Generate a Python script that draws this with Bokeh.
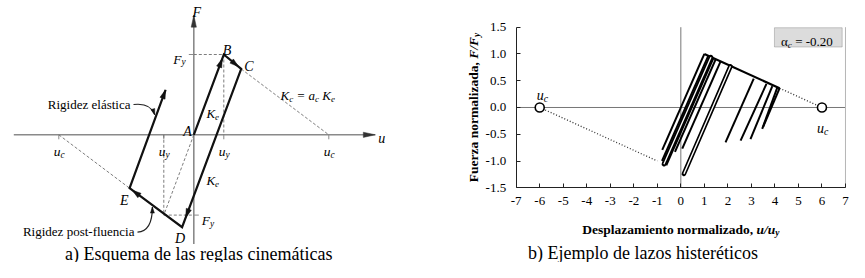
import math
from bokeh.plotting import figure
from bokeh.models import Range1d, Label, BoxAnnotation, FixedTicker, LinearAxis
from bokeh.layouts import row
from bokeh.embed import file_html
from bokeh.resources import INLINE

SERIF = "Liberation Serif"

# ---------------- Panel a: schematic (u / u_y, F / F_y) ----------------
pt_names = ["A", "B", "C", "D", "E"]
pt_u = [0.0, 1.0, 1.58, -0.39, -2.14]
pt_F = [0.0, 1.0, 0.82, -1.15, -0.665]
reload_tip_u = [-0.94]
reload_tip_F = [0.56]
u_y = 1.0
F_y = 1.0
u_c = 4.5
u_axis_ext = [-6.0, 6.05]
F_axis_ext = [-1.36, 1.49]

# ---------------- Panel b: hysteresis example ----------------
x_ticks = [-7, -6, -5, -4, -3, -2, -1, 0, 1, 2, 3, 4, 5, 6, 7]
x_tick_labels = ["-7", "-6", "-5", "-4", "-3", "-2", "-1", "0", "1", "2", "3", "4", "5", "6", "7"]
y_ticks = [-1.5, -1.0, -0.5, 0.0, 0.5, 1.0, 1.5]
y_tick_labels = ["-1.5", "-1.0", "-0.5", "0.0", "0.5", "1.0", "1.5"]
alpha_c = -0.20
cap_u = [-6.0, 6.0]
cap_F = [0.0, 0.0]
yield_u = [-1.0, 1.0]
yield_F = [-1.0, 1.0]
env_end_u = 4.2
env_end_F = 0.36
# single elastic branches: (top on envelope) -> (bottom)
cyc_top_u = [1.00, 1.17, 1.24, 1.31, 1.38, 1.48, 1.69, 3.10, 3.64, 3.89, 4.10, 4.20]
cyc_top_F = [1.00, 0.97, 0.95, 0.94, 0.92, 0.90, 0.86, 0.54, 0.44, 0.40, 0.37, 0.36]
cyc_bot_u = [-0.79, -0.80, -0.75, -0.70, -0.62, -0.25, 0.06, 1.90, 2.54, 2.96, 3.46, 3.50]
cyc_bot_F = [-0.79, -1.00, -1.04, -1.07, -1.08, -0.83, -0.77, -0.65, -0.62, -0.59, -0.40, -0.36]
# doubled branches (drawn outlined)
dbl_top_u = [1.28, 2.11]
dbl_top_F = [0.94, 0.77]
dbl_bot_u = [-0.72, 0.13]
dbl_bot_F = [-1.06, -1.24]

# ---------------- text helpers ----------------
W_REG = {' ': 250, ')': 333, '-': 333, '.': 250, ',': 250, '=': 564, '0': 500, '2': 500, 'α': 530}
W_ITA = {'K': 667, 'c': 444, 'e': 444, 'a': 500, 'u': 500, 'y': 444, 'F': 611, '=': 675, ' ': 250, '/': 278}
W_BOLD = {'D': 722, 'e': 444, 's': 389, 'p': 556, 'l': 278, 'a': 500, 'z': 444, 'm': 833, 'i': 278,
          'n': 556, 't': 333, 'o': 500, ' ': 250, 'r': 444, 'd': 556, ',': 250, 'F': 611, 'u': 556}
W_BI = {'u': 556, '/': 278, 'F': 667, 'y': 444, ' ': 250}
TABLES = {"normal": W_REG, "italic": W_ITA, "bold": W_BOLD, "bold italic": W_BI}


def text_w(t, style, size):
    tb = TABLES[style]
    return sum(tb.get(ch, 500) for ch in t) * size / 1000.0


def label(p, x, y, text, size, style="normal", xo=0.0, yo=0.0, align="left",
          baseline="alphabetic", angle=0.0, color="black"):
    p.add_layout(Label(x=x, y=y, x_offset=xo, y_offset=yo, text=text, text_font=SERIF,
                       text_font_size=f"{size:.1f}px", text_font_style=style, text_align=align,
                       text_baseline=baseline, angle=angle, text_color=color))


def rich(p, x, y, segs, size, xo=0.0, yo=0.0, align="left", angle=0.0,
         sub_scale=0.7, sub_drop=0.25, color="black"):
    pieces = []
    for t, st, sb in segs:
        fs = size * (sub_scale if sb else 1.0)
        core = t.strip(" ")
        sp = text_w(" ", st, fs)
        if core:
            lead = (len(t) - len(t.lstrip(" "))) * sp
            trail = (len(t) - len(t.rstrip(" "))) * sp
        else:
            lead, trail = len(t) * sp, 0.0
        pieces.append((core, st, sb, fs, lead, text_w(core, st, fs), trail))
    total = sum(pc[4] + pc[5] + pc[6] for pc in pieces)
    pos = {"left": 0.0, "center": -total / 2.0, "right": -total}[align]
    for core, st, sb, fs, lead, w, trail in pieces:
        pos += lead
        drop = size * sub_drop if sb else 0.0
        if angle == 0.0:
            dx, dy = pos, -drop
        else:
            dx, dy = drop, pos
        if core:
            label(p, x, y, core, fs, st, xo + dx, yo + dy, "left", "alphabetic", angle, color)
        pos += w + trail


# ---------------- Panel a figure ----------------
WA, HA = 420, 262
SXa, SYa = 30.0, 80.3          # px per unit
ORIG = (193.3, 134.3)          # origin position in canvas px (from left, from top)
pa = figure(width=WA, height=HA, output_backend="svg", toolbar_location=None,
            x_range=Range1d(-ORIG[0] / SXa, (WA - ORIG[0]) / SXa),
            y_range=Range1d(-(HA - ORIG[1]) / SYa, ORIG[1] / SYa),
            x_axis_type=None, y_axis_type=None, min_border=0, title=None)
pa.grid.visible = False
pa.outline_line_color = None


def arrow_tri(tu, tF, du, dF, L, hw):
    dx, dy = du * SXa, dF * SYa
    n = math.hypot(dx, dy)
    dx, dy = dx / n, dy / n
    bx, by = -dx * L, -dy * L
    px, py = -dy * hw, dx * hw
    xs = [tu, tu + (bx + px) / SXa, tu + (bx - px) / SXa]
    ys = [tF, tF + (by + py) / SYa, tF + (by - py) / SYa]
    return xs, ys


AX_COL = "#8a8a8a"
DASH_COL = "#6e6e6e"
pa.line(u_axis_ext, [0, 0], line_color=AX_COL, line_width=1.6)
pa.line([0, 0], F_axis_ext, line_color=AX_COL, line_width=1.6)
axh = [arrow_tri(u_axis_ext[1], 0, 1, 0, 12, 2.6), arrow_tri(0, F_axis_ext[1], 0, 1, 12, 2.6)]
pa.patches([a[0] for a in axh], [a[1] for a in axh], fill_color="#333333", line_color="#333333", line_width=0.5)

tk_u = [-u_c, -u_y, u_y, u_c]
pa.segment(x0=tk_u, y0=[0] * 4, x1=tk_u, y1=[-4.5 / SYa] * 4, line_color=AX_COL, line_width=1)
pa.segment(x0=[0, 0], y0=[F_y, -F_y], x1=[-5 / SXa, 5 / SXa], y1=[F_y, -F_y], line_color=AX_COL, line_width=1)

C_u, C_F, E_u, E_F = pt_u[2], pt_F[2], pt_u[4], pt_F[4]
d_x0 = [0, u_y, C_u, -u_c, 0, -u_y, -u_y]
d_y0 = [F_y, F_y, C_F, 0, 0, 0, -F_y]
d_x1 = [u_y, u_y, u_c, E_u, -u_y, -u_y, 0]
d_y1 = [F_y, 0, 0, E_F, -F_y, -F_y, -F_y]
pa.segment(x0=d_x0, y0=d_y0, x1=d_x1, y1=d_y1, line_color=DASH_COL, line_width=0.9, line_dash="3 2")

path_u = pt_u + reload_tip_u
path_F = pt_F + reload_tip_F
pa.line(path_u, path_F, line_color="#111111", line_width=2.2, line_join="miter")
arrow_frac = [0.95, 0.85, 0.94, 0.95, 1.0]
heads = []
for i, f in enumerate(arrow_frac):
    u0, F0, u1, F1 = path_u[i], path_F[i], path_u[i + 1], path_F[i + 1]
    heads.append(arrow_tri(u0 + f * (u1 - u0), F0 + f * (F1 - F0), u1 - u0, F1 - F0, 9, 2.7))

lead_x0 = [-2.01, -1.877]
lead_y0 = [0.377, -1.213]
lead_cx = [-1.443, -1.38]
lead_cy = [0.402, -1.204]
lead_x1 = [-1.30, -1.38]
lead_y1 = [0.25, -0.90]
pa.quadratic(x0=lead_x0, y0=lead_y0, x1=lead_x1, y1=lead_y1, cx=lead_cx, cy=lead_cy,
             line_color="#222222", line_width=1.2)
for i in range(2):
    heads.append(arrow_tri(lead_x1[i], lead_y1[i], lead_x1[i] - lead_cx[i], lead_y1[i] - lead_cy[i], 6, 2.0))
pa.patches([h[0] for h in heads], [h[1] for h in heads], fill_color="#111111", line_color="#111111", line_width=0.5)

lab_off = {"A": (-2, 3, "right"), "B": (-1, 4, "left"), "C": (3, 2, "left"),
           "D": (-2, -11.5, "center"), "E": (-1, -12, "right")}
for nm, u, F in zip(pt_names, pt_u, pt_F):
    xo, yo, al = lab_off[nm]
    label(pa, u, F, nm, 14, "italic", xo, yo, al)
label(pa, 0, F_axis_ext[1], "F", 14, "italic", 3, 3, "center")
label(pa, u_axis_ext[1], 0, "u", 14, "italic", 3, -4, "left")
rich(pa, 0, F_y, [("F", "italic", False), ("y", "italic", True)], 13.5, xo=-8, yo=-4.5, align="right")
rich(pa, 0, -F_y, [("F", "italic", False), ("y", "italic", True)], 13.5, xo=8, yo=-5.5, align="left")
for u, s in zip(tk_u, ["c", "y", "y", "c"]):
    rich(pa, u, 0, [("u", "italic", False), (s, "italic", True)], 13.5, xo=-5, yo=-16.5, align="left")
rich(pa, 0.42, 0.26, [("K", "italic", False), ("e", "italic", True)], 13, align="left")
rich(pa, 0.42, -0.57, [("K", "italic", False), ("e", "italic", True)], 13, align="left")
rich(pa, 2.89, 0.49, [("K", "italic", False), ("c", "italic", True), (" = ", "italic", False),
                      ("a", "italic", False), ("c", "italic", True), (" K", "italic", False),
                      ("e", "italic", True)], 13, align="left")
label(pa, lead_x0[0], lead_y0[0], "Rigidez elástica", 13, "normal", -3, 0, "right", "middle")
label(pa, lead_x0[1], lead_y0[1], "Rigidez post-fluencia", 13, "normal", -3, 1, "right", "middle")
label(pa, 0, 0, "a) Esquema de las reglas cinemáticas", 18, "normal", 5, -118.7, "center")

# ---------------- Panel b figure ----------------
WB, HB = 429, 262
SXb, SYb = 23.52, 53.53
FR_L, FR_T = 95.7, 26.7        # canvas px of (x=-7, y=1.5)
pb = figure(width=WB, height=HB, output_backend="svg", toolbar_location=None,
            x_range=Range1d(x_ticks[0] - FR_L / SXb, x_ticks[0] + (WB - FR_L) / SXb),
            y_range=Range1d(y_ticks[-1] - (HB - FR_T) / SYb, y_ticks[-1] + FR_T / SYb),
            x_axis_type=None, y_axis_type=None, min_border=0, title=None)
pb.grid.visible = False
pb.outline_line_color = None

xa = LinearAxis(fixed_location=y_ticks[0], bounds=(x_ticks[0], x_ticks[-1]))
ya = LinearAxis(fixed_location=x_ticks[0], bounds=(y_ticks[0], y_ticks[-1]))
pb.add_layout(xa, "below")
pb.add_layout(ya, "left")
for ax, tks, tls, so in [(xa, x_ticks, x_tick_labels, 9), (ya, y_ticks, y_tick_labels, 10)]:
    ax.ticker = FixedTicker(ticks=tks)
    ax.major_label_overrides = {t: l for t, l in zip(tks, tls)}
    ax.major_tick_in = 4
    ax.major_tick_out = 0
    ax.minor_tick_line_color = None
    ax.axis_line_color = "#222222"
    ax.major_tick_line_color = "#222222"
    ax.major_label_text_font = SERIF
    ax.major_label_text_font_size = "13px"
    ax.major_label_text_color = "black"
    ax.major_label_standoff = so

# zero lines and right border
pb.segment(x0=[0, x_ticks[0], x_ticks[-1]], y0=[y_ticks[0], 0, y_ticks[0]],
           x1=[0, x_ticks[-1], x_ticks[-1]], y1=[y_ticks[-1], 0, y_ticks[-1]],
           line_color=["#777777", "#777777", "#b5b5b5"], line_width=1)

pb.line([cap_u[0], yield_u[0]], [cap_F[0], yield_F[0]], line_color="#333333", line_width=1.3, line_dash="1 2")
pb.line([env_end_u, cap_u[1]], [env_end_F, cap_F[1]], line_color="#333333", line_width=1.3, line_dash="1 2")
pb.line([yield_u[1], env_end_u], [yield_F[1], env_end_F], line_color="black", line_width=2.2)
pb.segment(x0=cyc_top_u, y0=cyc_top_F, x1=cyc_bot_u, y1=cyc_bot_F, line_color="black", line_width=2.0)
pb.segment(x0=dbl_top_u, y0=dbl_top_F, x1=dbl_bot_u, y1=dbl_bot_F, line_color="black", line_width=4.6, line_cap="round")
pb.segment(x0=dbl_top_u, y0=dbl_top_F, x1=dbl_bot_u, y1=dbl_bot_F, line_color="white", line_width=1.3)
pb.scatter(cap_u, cap_F, marker="circle", size=9, fill_color="white", line_color="black", line_width=1.6)

rich(pb, cap_u[0], cap_F[0], [("u", "italic", False), ("c", "italic", True)], 14, xo=-3, yo=12)
rich(pb, cap_u[1], cap_F[1], [("u", "italic", False), ("c", "italic", True)], 14, xo=-5, yo=-21)

box_l, box_r, box_b, box_t = 3.98, 6.86, 1.13, 1.49
pb.add_layout(BoxAnnotation(left=box_l, right=box_r, bottom=box_b, top=box_t, fill_color="#dcdcdc",
                            fill_alpha=1.0, line_color="#555555", line_width=1, level="annotation"))
rich(pb, box_l, (box_b + box_t) / 2, [("α", "normal", False), ("c", "italic", True),
                                       (f" = {alpha_c:.2f}", "normal", False)], 13, xo=6.5, yo=-4.5)

rich(pb, 0, y_ticks[0], [("Desplazamiento normalizado, ", "bold", False), ("u/u", "bold italic", False),
                         ("y", "bold italic", True)], 13.5, yo=-41.5, align="center")
rich(pb, x_ticks[0], 0, [("Fuerza normalizada, ", "bold", False), ("F/F", "bold italic", False),
                         ("y", "bold italic", True)], 13.5, xo=-43, align="center", angle=math.pi / 2)
label(pb, -1.607, y_ticks[0], "b) Ejemplo de lazos histeréticos", 18, "normal", 0, -65.7, "center")

layout = row(pa, pb)
open("out.html", "w").write(file_html(layout, INLINE))
